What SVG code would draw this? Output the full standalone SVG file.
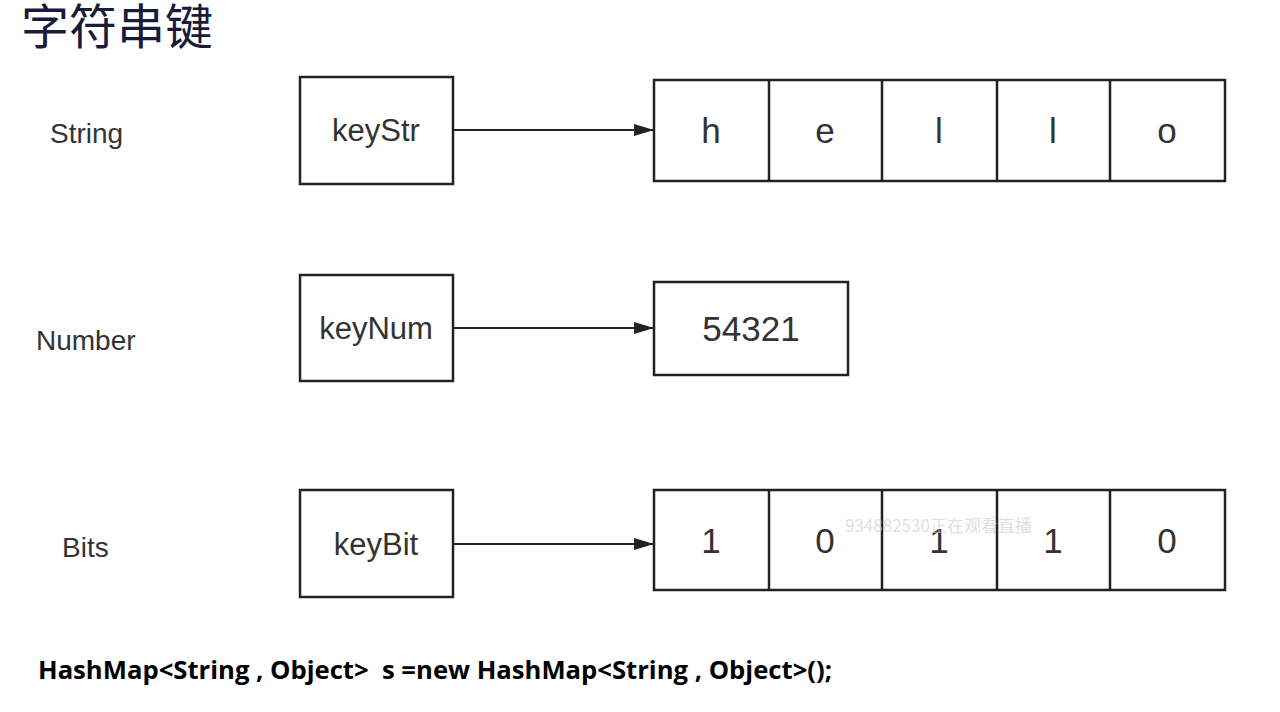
<svg xmlns="http://www.w3.org/2000/svg" width="1280" height="712" viewBox="0 0 1280 712">
<style>
.box{fill:#fff;stroke:#222;stroke-width:2.5}
.lbl{font-family:"Liberation Sans",Arial,sans-serif;font-size:28px;fill:#333}
.key{font-family:"Liberation Sans",Arial,sans-serif;font-size:31px;fill:#333;text-anchor:middle}
.cell{font-family:"Liberation Sans",Arial,sans-serif;font-size:35px;fill:#333;text-anchor:middle}
.edge{stroke:#222;stroke-width:2;fill:none}
</style>
<defs>
<marker id="arr" viewBox="0 0 20 12" refX="20" refY="6" markerWidth="20" markerHeight="12" markerUnits="userSpaceOnUse" orient="auto">
<path d="M0,0 L20,6 L0,12 z" fill="#222"/>
</marker>
</defs>
<rect width="1280" height="712" fill="#fff"/>
<text x="21" y="44" font-family="'Noto Sans CJK SC',sans-serif" font-size="48" fill="#1a1a3a">字符串键</text>
<text class="lbl" x="50" y="143">String</text>
<text class="lbl" x="36" y="350">Number</text>
<text class="lbl" x="62" y="557">Bits</text>
<g id="keyStr"><rect class="box" x="300" y="77" width="153" height="107"/><text class="key" x="376" y="141">keyStr</text></g>
<g id="keyNum"><rect class="box" x="300" y="275" width="153" height="106"/><text class="key" x="376" y="339">keyNum</text></g>
<g id="keyBit"><rect class="box" x="300" y="490" width="153" height="107"/><text class="key" x="376" y="555">keyBit</text></g>
<g id="strArray">
<rect class="box" x="654" y="80" width="571" height="101"/>
<path class="edge" d="M769,80V181M882,80V181M997,80V181M1110,80V181" style="stroke-width:2.5"/>
<text class="cell" x="711" y="143">h</text><text class="cell" x="825" y="143">e</text><text class="cell" x="939" y="143">l</text><text class="cell" x="1053" y="143">l</text><text class="cell" x="1167" y="143">o</text>
</g>
<g id="numBox"><rect class="box" x="654" y="282" width="194" height="93"/><text class="cell" x="751" y="341">54321</text></g>
<g id="bitArray">
<rect class="box" x="654" y="490" width="571" height="100"/>
<path class="edge" d="M769,490V590M882,490V590M997,490V590M1110,490V590" style="stroke-width:2.5"/>
<text class="cell" x="711" y="553">1</text><text class="cell" x="825" y="553">0</text><text class="cell" x="939" y="553">1</text><text class="cell" x="1053" y="553">1</text><text class="cell" x="1167" y="553">0</text>
</g>
<text x="845" y="532" font-family="'Noto Sans CJK SC',sans-serif" font-size="17" fill="#ccc" opacity="0.6">934882530正在观看直播</text>
<g id="connectors">
<line class="edge" x1="453" y1="130" x2="654" y2="130" marker-end="url(#arr)"/>
<line class="edge" x1="453" y1="328" x2="654" y2="328" marker-end="url(#arr)"/>
<line class="edge" x1="453" y1="544" x2="654" y2="544" marker-end="url(#arr)"/>
</g>
<text x="38" y="679" font-family="'Open Sans',sans-serif" font-weight="bold" font-size="25" fill="#000" textLength="794" lengthAdjust="spacingAndGlyphs" xml:space="preserve">HashMap&lt;String , Object&gt;  s =new HashMap&lt;String , Object&gt;();</text>
</svg>
